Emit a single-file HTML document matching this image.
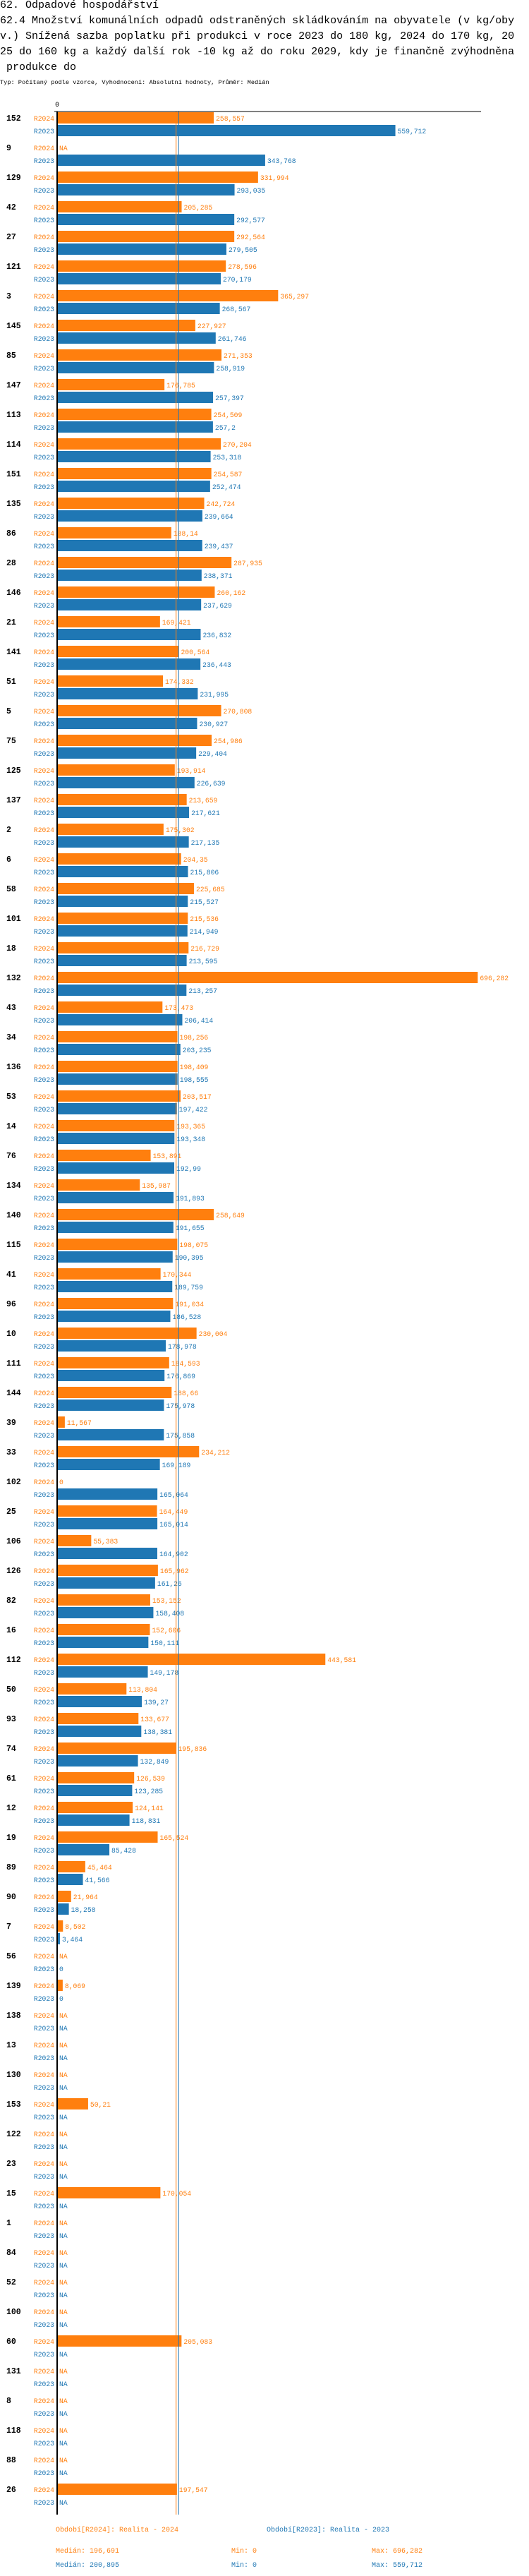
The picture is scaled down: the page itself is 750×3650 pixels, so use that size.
<!DOCTYPE html>
<html><head><meta charset="utf-8">
<style>
html,body{margin:0;padding:0;background:#fff;}
body{width:750px;height:3650px;overflow:hidden;position:relative;font-family:"Liberation Mono",monospace;}
.t{position:absolute;left:0;white-space:pre;font-size:15px;color:#000;line-height:22px;}
svg text{font-family:"Liberation Mono",monospace;}
</style></head><body>
<div class="t" style="top:-3px">62. Odpadové hospodářství</div>
<div class="t" style="top:19px">62.4 Množství komunálních odpadů odstraněných skládkováním na obyvatele (v kg/oby
v.) Snížená sazba poplatku při produkci v roce 2023 do 180 kg, 2024 do 170 kg, 20
25 do 160 kg a každý další rok -10 kg až do roku 2029, kdy je finančně zvýhodněna
 produkce do</div>
<div class="t" style="top:111px;font-size:8.6px;line-height:12px">Typ: Počítaný podle vzorce, Vyhodnocení: Absolutní hodnoty, Průměr: Medián</div>
<svg id="chart" width="750" height="3650" style="position:absolute;left:0;top:0"></svg>
<script>
const categories=["152","9","129","42","27","121","3","145","85","147","113","114","151","135","86","28","146","21","141","51","5","75","125","137","2","6","58","101","18","132","43","34","136","53","14","76","134","140","115","41","96","10","111","144","39","33","102","25","106","126","82","16","112","50","93","74","61","12","19","89","90","7","56","139","138","13","130","153","122","23","15","1","84","52","100","60","131","8","118","88","26"];
const values2024=[258.557,null,331.994,205.285,292.564,278.596,365.297,227.927,271.353,176.785,254.509,270.204,254.587,242.724,188.14,287.935,260.162,169.421,200.564,174.332,270.808,254.986,193.914,213.659,175.302,204.35,225.685,215.536,216.729,696.282,173.473,198.256,198.409,203.517,193.365,153.891,135.987,258.649,198.075,170.344,191.034,230.004,184.593,188.66,11.567,234.212,0,164.449,55.383,165.962,153.152,152.606,443.581,113.804,133.677,195.836,126.539,124.141,165.524,45.464,21.964,8.502,null,8.069,null,null,null,50.21,null,null,170.054,null,null,null,null,205.083,null,null,null,null,197.547];
const values2023=[559.712,343.768,293.035,292.577,279.505,270.179,268.567,261.746,258.919,257.397,257.2,253.318,252.474,239.664,239.437,238.371,237.629,236.832,236.443,231.995,230.927,229.404,226.639,217.621,217.135,215.806,215.527,214.949,213.595,213.257,206.414,203.235,198.555,197.422,193.348,192.99,191.893,191.655,190.395,189.759,186.528,178.978,176.869,175.978,175.858,169.189,165.064,165.014,164.902,161.26,158.408,150.111,149.178,139.27,138.381,132.849,123.285,118.831,85.428,41.566,18.258,3.464,0,0,null,null,null,null,null,null,null,null,null,null,null,null,null,null,null,null,null];
const seriesNames=["R2024","R2023"];
const medians=[196.691,200.895];
const mins=[0,0];
const maxs=[696.282,559.712];

const NS="http://www.w3.org/2000/svg";
const svg=document.getElementById('chart');
const X0=82, K=0.855, TOP=158, PITCH=42;
const colors=["#ff7f0e","#1f77b4"];
const xs=v=>X0+v*K;
const yBar=(i,s)=>TOP+1+i*PITCH+s*18;
const fmt=v=>String(v).replace('.',',');
function mk(tag,attrs,txt){const e=document.createElementNS(NS,tag);for(const k in attrs)e.setAttribute(k,attrs[k]);if(txt!==undefined)e.textContent=txt;svg.appendChild(e);return e;}
const bottom=TOP+1+categories.length*PITCH+2;

categories.forEach((c,i)=>{
  const lab=mk('text',{x:9,y:yBar(i,0)+12,'font-size':11.5,'font-weight':'bold',fill:'#000'},c);
  
  
  [values2024,values2023].forEach((arr,s)=>{
    const v=arr[i];const y=yBar(i,s);
    const sl=mk('text',{x:77,y:y+12,'font-size':9.7,'text-anchor':'end',fill:colors[s]},seriesNames[s]);
    
    
    let endX=X0+1;
    if(v!==null&&v>0){
      const r=mk('rect',{x:X0,y:y,width:xs(v)-X0,height:16,fill:colors[s]});
      
      
      endX=xs(v)+3;
    }else{endX=X0+2;}
    const vl=mk('text',{x:endX,y:y+12,'font-size':9.7,fill:colors[s]},v===null?'NA':fmt(v));
    
    
  });
});
medians.forEach((m,s)=>{
  const l=mk('line',{x1:xs(m)-0.5,x2:xs(m)-0.5,y1:TOP,y2:bottom,stroke:colors[s],'stroke-width':1});
  
  
});
const ax=mk('line',{x1:81,x2:81,y1:TOP,y2:bottom,stroke:'#000','stroke-width':2});


const tx=mk('line',{x1:77,x2:682,y1:TOP,y2:TOP,stroke:'#000','stroke-width':1});


const z=mk('text',{x:81,y:151,'font-size':9.7,'text-anchor':'middle',fill:'#000'},'0');


const ly=bottom+24;
const l1=mk('text',{x:79,y:ly,'font-size':10,fill:colors[0]},'Období[R2024]: Realita - 2024');


const l2=mk('text',{x:378,y:ly,'font-size':10,fill:colors[1]},'Období[R2023]: Realita - 2023');


[0,1].forEach(s=>{
  const yy=ly+30+s*20;
  const a=mk('text',{x:79,y:yy,'font-size':10,fill:colors[s]},'Medián: '+fmt(medians[s]));
  
  
  const b=mk('text',{x:328,y:yy,'font-size':10,fill:colors[s]},'Min: '+fmt(mins[s]));
  
  
  const d=mk('text',{x:527,y:yy,'font-size':10,fill:colors[s]},'Max: '+fmt(maxs[s]));
  
  
});
</script>
</body></html>
